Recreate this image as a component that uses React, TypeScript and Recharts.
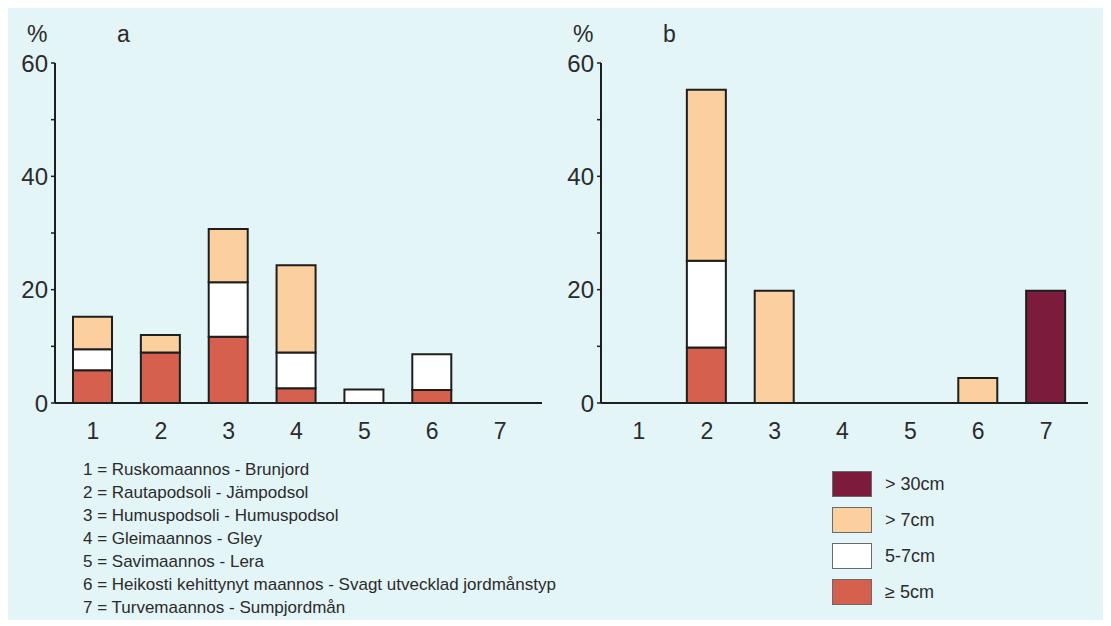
import React from "react";
import { Bar, BarChart, XAxis, YAxis } from "recharts";

const categories = ["1", "2", "3", "4", "5", "6", "7"];

// panel a
const aLe5 = [5.8, 8.9, 11.7, 2.6, null, 2.3, null];
const a5to7 = [3.7, null, 9.6, 6.3, 2.4, 6.3, null];
const aGt7 = [5.7, 3.1, 9.4, 15.4, null, null, null];
const aGt30 = [null, null, null, null, null, null, null];

// panel b
const bLe5 = [null, 9.8, null, null, null, null, null];
const b5to7 = [null, 15.3, null, null, null, null, null];
const bGt7 = [null, 30.2, 19.8, null, null, 4.4, null];
const bGt30 = [null, null, null, null, null, null, 19.8];

const yTicks = [0, 10, 20, 30, 40, 50, 60];
const yLabels = [0, 20, 40, 60];

const soilNames = [
  "1 = Ruskomaannos - Brunjord",
  "2 = Rautapodsoli - Jämpodsol",
  "3 = Humuspodsoli - Humuspodsol",
  "4 = Gleimaannos - Gley",
  "5 = Savimaannos - Lera",
  "6 = Heikosti kehittynyt maannos - Svagt utvecklad jordmånstyp",
  "7 = Turvemaannos - Sumpjordmån",
];

const legendItems = [
  { label: "> 30cm", color: "#7d1b3c" },
  { label: "> 7cm", color: "#fccf9e" },
  { label: "5-7cm", color: "#ffffff" },
  { label: "≥ 5cm", color: "#d5604d" },
];

const FONT = "'Liberation Sans', Arial, Helvetica, sans-serif";
const INK = "#2b2b2b";
const BG = "#e3f5f7";

function build(le5: (number | null)[], m57: (number | null)[], gt7: (number | null)[], gt30: (number | null)[]) {
  return categories.map((c, i) => ({ cat: c, le5: le5[i], m57: m57[i], gt7: gt7[i], gt30: gt30[i] }));
}

const dataA = build(aLe5, a5to7, aGt7, aGt30);
const dataB = build(bLe5, b5to7, bGt7, bGt30);

function Panel({ data, letter, left }: { data: any[]; letter: string; left: number }) {
  return (
    <div style={{ position: "absolute", left, top: 0, width: 560, height: 440 }}>
      <div style={{ position: "absolute", left: 19, top: 13, fontSize: 23, color: INK }}>%</div>
      <div style={{ position: "absolute", left: 109, top: 13, fontSize: 23, color: INK }}>{letter}</div>
      <BarChart width={560} height={440} data={data} margin={{ top: 55, right: 26, bottom: 5, left: 0 }} barSize={39}>
        <XAxis
          dataKey="cat"
          axisLine={{ stroke: "#1e1e1e", strokeWidth: 2 }}
          tickLine={false}
          tickSize={0}
          tickMargin={20}
          height={40}
          padding={{ left: 4, right: 8 }}
          tick={{ fill: INK, fontSize: 23, fontFamily: FONT }}
          interval={0}
        />
        <YAxis
          domain={[0, 60]}
          ticks={yTicks}
          width={47}
          axisLine={{ stroke: "#1e1e1e", strokeWidth: 2 }}
          tickLine={{ stroke: "#1e1e1e", strokeWidth: 1.5 }}
          tickSize={4}
          tickMargin={3}
          tickFormatter={(v: number) => (yLabels.includes(v) ? String(v) : "")}
          tick={{ fill: INK, fontSize: 24, fontFamily: FONT }}
          interval={0}
        />
        <Bar dataKey="le5" stackId="s" fill="#d5604d" stroke="#1e1e1e" strokeWidth={2} isAnimationActive={false} />
        <Bar dataKey="m57" stackId="s" fill="#ffffff" stroke="#1e1e1e" strokeWidth={2} isAnimationActive={false} />
        <Bar dataKey="gt7" stackId="s" fill="#fccf9e" stroke="#1e1e1e" strokeWidth={2} isAnimationActive={false} />
        <Bar dataKey="gt30" stackId="s" fill="#7d1b3c" stroke="#1e1e1e" strokeWidth={2} isAnimationActive={false} />
      </BarChart>
    </div>
  );
}

export default function App() {
  return (
    <div style={{ position: "relative", width: 1100, height: 612, background: BG, fontFamily: FONT, overflow: "hidden" }}>
      <Panel data={dataA} letter="a" left={0} />
      <Panel data={dataB} letter="b" left={546} />
      <div style={{ position: "absolute", left: 75, top: 450, fontSize: 17, lineHeight: "23px", color: INK }}>
        {soilNames.map((s) => (
          <div key={s}>{s}</div>
        ))}
      </div>
      <div style={{ position: "absolute", left: 824, top: 458 }}>
        {legendItems.map((it) => (
          <div key={it.label} style={{ display: "flex", alignItems: "center", height: 36 }}>
            <div style={{ width: 38, height: 24, background: it.color, border: "1px solid #6a6a6a" }} />
            <span style={{ marginLeft: 13, fontSize: 18, color: INK }}>{it.label}</span>
          </div>
        ))}
      </div>
    </div>
  );
}
